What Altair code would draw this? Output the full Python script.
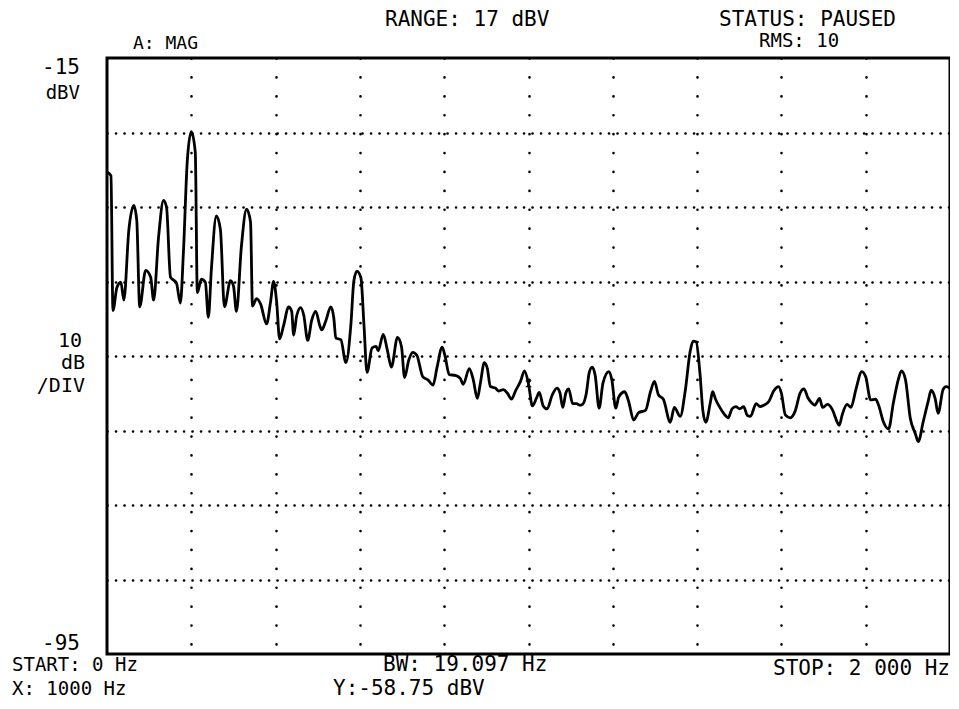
import altair as alt
import pandas as pd

freq = [0, 9.4, 14.1, 23.5, 32.9, 40.0, 51.8, 63.5, 70.6, 77.6, 91.8, 103.5, 110.6, 122.4, 134.1, 141.2,
        150.6, 157.6, 164.7, 174.1, 181.2, 190.6, 200, 209.5, 214.3, 223.8, 233.3, 240.5, 247.6, 259.5,
        269.0, 278.6, 292.9, 300.0, 307.1, 319.0, 331.0, 340.5, 345.2, 354.8, 364.3, 378.6, 388.1, 395.2,
        402.4, 409.5, 419.0, 431.0, 438.1, 442.9, 450.0, 459.5, 466.7, 476.2, 485.7, 495.2, 504.8, 509.5,
        519.0, 531.0, 538.1, 542.9, 554.8, 566.7, 578.6, 585.7, 592.9, 602.4, 609.6, 616.9, 628.9, 638.6,
        643.4, 655.4, 665.1, 674.7, 689.2, 698.8, 706.0, 715.7, 725.3, 735.0, 749.4, 761.4, 773.5, 783.1,
        795.2, 802.4, 811.9, 826.2, 838.1, 845.2, 859.5, 869.0, 878.6, 885.7, 895.2, 902.4, 909.5, 921.4,
        928.6, 940.5, 950.0, 959.5, 969.0, 981.0, 990.5, 1000, 1009.3, 1018.6, 1025.6, 1034.9, 1044.2,
        1055.8, 1067.5, 1074.4, 1081.4, 1088.4, 1095.4, 1104.7, 1114.0, 1121.0, 1128.0, 1137.2, 1144.2,
        1151.2, 1158.2, 1167.5, 1176.8, 1190.7, 1197.7, 1207.1, 1214.1, 1228.2, 1237.6, 1249.4, 1261.2,
        1277.6, 1289.4, 1298.8, 1308.2, 1320.0, 1336.5, 1345.9, 1360.0, 1371.8, 1383.5, 1390.6, 1397.6,
        1406.9, 1413.8, 1420.7, 1432.2, 1436.8, 1443.7, 1452.9, 1464.4, 1473.6, 1482.8, 1492.0, 1501.1,
        1510.3, 1519.5, 1526.4, 1540.2, 1549.4, 1558.6, 1570.1, 1581.6, 1593.1, 1600, 1609.3, 1620.9,
        1632.6, 1644.2, 1653.5, 1662.8, 1672.1, 1679.1, 1690.7, 1697.7, 1709.3, 1720.9, 1732.6, 1737.2,
        1744.2, 1755.8, 1765.1, 1776.7, 1790.7, 1800, 1811.8, 1823.5, 1830.6, 1842.4, 1854.1, 1865.9,
        1877.6, 1884.7, 1894.1, 1905.9, 1917.6, 1924.7, 1936.5, 1948.2, 1955.3, 1964.7, 1971.8, 1983.5,
        1990.6, 2000]

dbv = [-30.3, -30.8, -48.9, -45.8, -45.1, -47.5, -38.1, -34.8, -36.8, -48.4, -43.5, -44.4, -47.5, -39.0,
       -34.1, -35.0, -44.4, -44.8, -45.2, -47.9, -41.2, -28.7, -24.9, -27.7, -46.5, -44.7, -45.1, -49.8,
       -43.4, -36.2, -38.0, -48.4, -44.9, -45.6, -49.0, -40.2, -35.3, -37.0, -48.3, -47.3, -48.0, -50.7,
       -47.7, -45.0, -47.7, -52.7, -50.9, -48.4, -49.0, -52.2, -49.6, -48.5, -49.5, -52.9, -50.2, -49.0,
       -50.9, -51.5, -50.3, -48.4, -49.9, -52.6, -52.8, -55.9, -50.8, -44.9, -43.6, -44.5, -50.8, -57.2,
       -53.9, -53.7, -54.3, -52.1, -54.2, -56.5, -52.5, -53.8, -57.9, -55.6, -54.5, -54.9, -57.8, -58.2,
       -58.9, -56.5, -53.8, -55.1, -57.5, -57.6, -58.0, -58.8, -56.7, -58.2, -60.7, -58.7, -55.9, -56.7,
       -59.1, -59.3, -59.7, -59.5, -60.0, -60.8, -59.7, -58.4, -57.0, -58.75, -61.7, -60.7, -59.9, -61.7,
       -62.1, -60.3, -59.3, -59.9, -61.9, -60.0, -59.4, -61.4, -61.4, -61.6, -61.5, -60.0, -57.2, -56.5,
       -57.6, -62.0, -58.6, -57.1, -58.2, -62.0, -60.5, -59.8, -61.1, -63.6, -62.6, -62.3, -59.8, -58.4,
       -60.2, -60.8, -63.9, -61.9, -63.1, -59.7, -54.4, -53.0, -53.1, -57.4, -62.4, -63.9, -61.0, -59.8,
       -60.8, -61.8, -62.8, -63.3, -62.1, -61.8, -62.1, -61.8, -63.0, -63.1, -61.4, -61.8, -61.6, -61.1,
       -59.7, -59.1, -60.0, -62.9, -63.3, -62.4, -60.0, -59.4, -60.6, -61.3, -61.6, -60.7, -61.9, -61.5,
       -62.2, -63.9, -64.3, -62.9, -61.5, -61.9, -59.5, -57.1, -57.8, -60.9, -60.8, -61.6, -63.9, -64.8,
       -61.2, -58.1, -57.0, -58.1, -63.4, -65.4, -66.5, -63.8, -61.1, -59.6, -60.7, -62.7, -59.5, -59.1,
       -59.3]

marker_freq = [1000]
marker_dbv = [-58.75]

x_grid = [200, 400, 600, 800, 1000, 1200, 1400, 1600, 1800]
y_grid = [-25, -35, -45, -55, -65, -75, -85]

FONT = "DejaVu Sans Mono"
W, H = 843, 596

df = pd.DataFrame({"freq": freq, "dbv": dbv})
mk = pd.DataFrame({"freq": marker_freq, "dbv": marker_dbv})

xs = alt.Scale(domain=[0, 2000], nice=False, zero=False)
ys = alt.Scale(domain=[-95, -15], nice=False, zero=False)

x_enc = alt.X("freq:Q", scale=xs,
              axis=alt.Axis(values=x_grid, grid=True, labels=False, ticks=False, domain=False,
                            title=None, gridColor="black", gridOpacity=1, gridWidth=2.6,
                            gridDash=[0.1, 18.8], gridCap="round"))
y_enc = alt.Y("dbv:Q", scale=ys,
              axis=alt.Axis(values=y_grid, grid=True, labels=False, ticks=False, domain=False,
                            title=None, gridColor="black", gridOpacity=1, gridWidth=2.6,
                            gridDash=[0.1, 8.4], gridCap="round"))

line = alt.Chart(df).mark_line(color="black", strokeWidth=2.8, interpolate="monotone").encode(
    x=x_enc, y=y_enc)

marker = alt.Chart(mk).mark_point(
    shape="M -1 -1 L 1 -1 L -1 1 L 1 1 Z", filled=True, color="black", size=45, opacity=1
).encode(x=alt.X("freq:Q", scale=xs), y=alt.Y("dbv:Q", scale=ys))


def label(text, x, y, align="left", size=22):
    return alt.Chart(pd.DataFrame({"t": [text]})).mark_text(
        font=FONT, fontSize=size, align=align, baseline="middle", color="black"
    ).encode(text="t:N", x=alt.value(x), y=alt.value(y))


texts = [
    label("A: MAG", 26, -14, size=18),
    label("RANGE: 17 dBV", 278, -38, size=21),
    label("STATUS: PAUSED", 612, -38, size=21),
    label("RMS: 10", 652, -17, size=19),
    label("-15", -27, 10, align="right", size=21),
    label("dBV", -27, 35, align="right", size=19),
    label("10", -25, 283, align="right", size=20),
    label("dB", -22, 305, align="right", size=20),
    label("/DIV", -22, 328, align="right", size=20),
    label("-95", -27, 586, align="right", size=21),
    label("START: 0 Hz", -95, 607, size=19),
    label("X: 1000 Hz", -95, 631, size=19),
    label("BW: 19.097 Hz", 276, 607, size=21),
    label("Y:-58.75 dBV", 226, 631, size=21),
    label("STOP: 2 000 Hz", W, 611, align="right", size=21),
]

chart = alt.layer(line, marker, *texts).properties(
    width=W, height=H,
    autosize=alt.AutoSizeParams(type="none"),
    padding={"left": 99, "top": 50, "right": 0, "bottom": 46},
    background="white",
).configure_view(stroke="black", strokeWidth=3)

chart.save("out.html", embed_options={"renderer": "svg", "actions": False})
